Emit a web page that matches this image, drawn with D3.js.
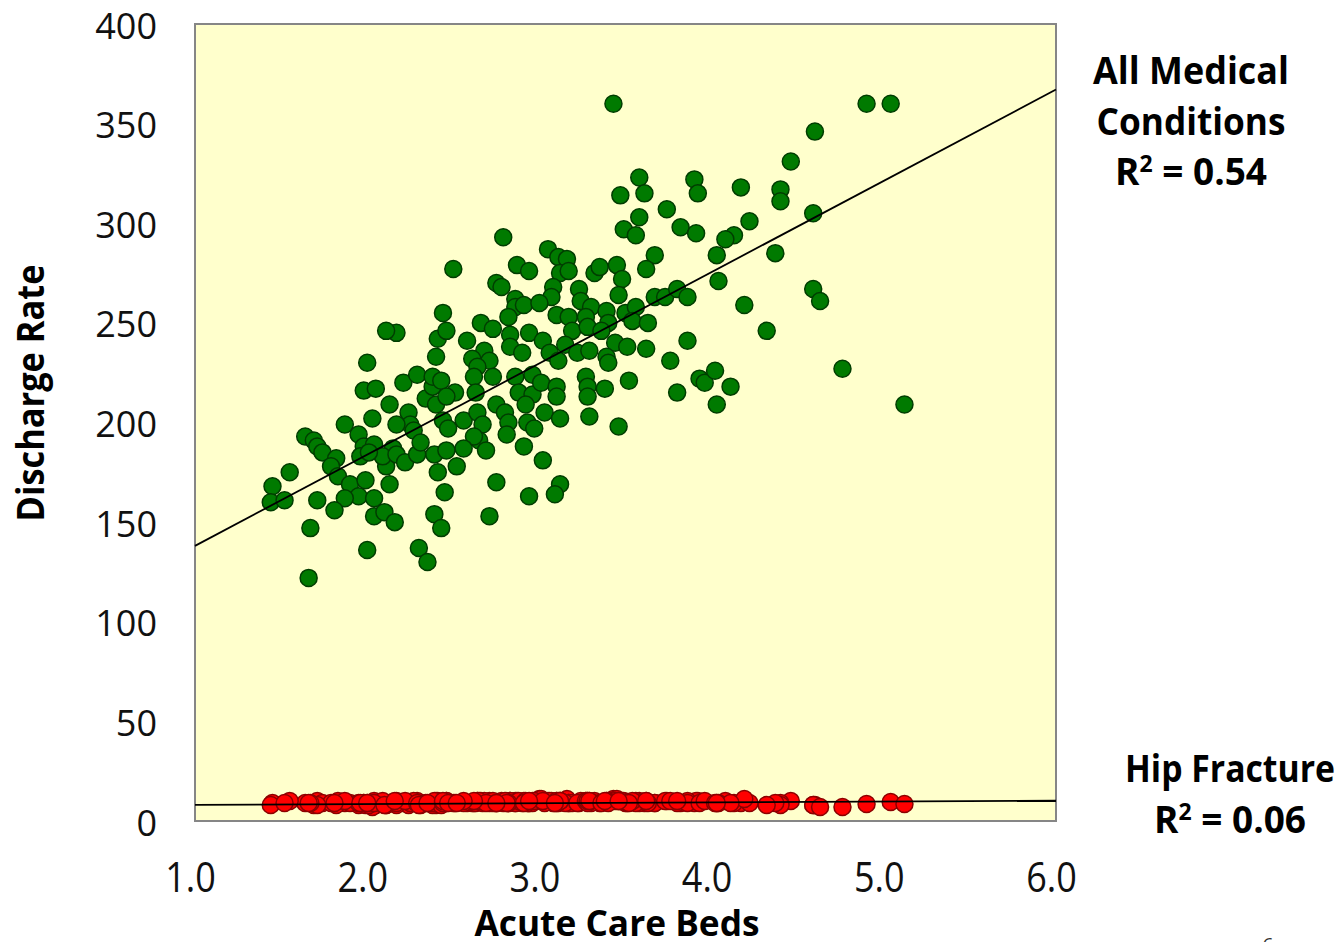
<!DOCTYPE html>
<html>
<head>
<meta charset="utf-8">
<script src="https://cdn.jsdelivr.net/npm/d3@7"></script>
<style>
  body { margin: 0; background: #ffffff; }
  svg { display: block; }
</style>
</head>
<body>
<div id="graph1"></div>
<script>
// Acute care beds per region (shared by both series)
const beds = [
    2.00, 2.40, 2.41, 2.17, 2.11, 2.21, 2.29, 1.98, 2.05, 2.13, 2.03, 1.87, 1.64, 1.69, 1.71, 1.74, 1.95, 1.98, 2.04, 2.15,
    2.24, 2.25, 2.17, 2.27, 2.34, 2.38, 2.38, 2.40, 2.43, 1.55, 1.45, 1.44, 1.52, 1.82, 1.79, 1.83, 1.90, 1.99, 1.95, 1.87,
    2.04, 2.11, 2.13, 2.09, 1.96, 2.01, 2.17, 2.22, 2.29, 2.31, 2.39, 2.41, 2.46, 1.71, 1.81, 2.04, 2.10, 2.16, 2.45, 2.39,
    2.43, 1.67, 2.00, 2.30, 2.35, 1.66, 2.71,
    2.79, 3.49, 2.50, 3.05, 3.11, 3.16, 2.87, 2.94, 3.12, 3.17, 3.32, 3.35, 2.75, 2.78, 3.08, 3.07, 3.23, 3.24, 3.30, 2.86,
    2.86, 2.91, 3.00, 2.44, 2.46, 2.82, 3.10, 3.17, 3.27, 3.50, 2.66, 2.73, 2.83, 2.94, 3.02, 3.19, 3.28, 2.58, 2.83, 2.90,
    2.68, 2.71, 3.06, 3.15, 3.11, 3.22, 3.29, 2.61, 2.64, 2.62, 2.73, 2.86, 2.96, 2.51, 2.46, 2.63, 2.88, 2.96, 3.01, 3.10,
    3.10, 3.27, 3.28, 3.28, 2.75, 2.80, 2.82, 2.92, 2.93, 2.97, 3.03, 3.12, 2.56, 2.64, 2.67, 2.44, 2.47, 3.29, 2.81, 2.65,
    2.69, 2.62, 2.91, 2.56, 2.52, 3.02, 2.75, 3.12, 3.09, 2.94,
    3.43, 4.60, 4.90, 5.04, 4.46, 3.58, 3.61, 3.47, 3.90, 3.92, 4.17, 4.40, 4.40, 3.74, 3.58, 3.56, 3.82, 3.91, 4.22, 4.13,
    4.08, 4.59, 3.67, 3.62, 3.45, 3.48, 4.03, 4.37, 3.46, 3.67, 3.73, 3.80, 3.86, 4.04, 4.59, 4.63, 4.19, 3.39, 3.56, 3.54,
    3.63, 3.40, 3.36, 4.32, 3.44, 3.51, 3.62, 3.86, 3.39, 3.40, 3.76, 4.76, 3.52, 3.38, 3.93, 3.96, 4.02, 4.11, 3.80, 4.03,
    3.46, 5.12
];

// Discharge rate, all medical conditions
const allMedical = [
    230, 233, 242, 245, 246, 220, 224, 216, 217, 209, 202, 199, 193, 191, 188, 185, 194, 188, 189, 187,
    205, 199, 199, 196, 212, 218, 223, 209, 221, 175, 168, 160, 161, 182, 178, 173, 169, 171, 163, 162,
    162, 178, 169, 183, 183, 185, 184, 180, 184, 190, 184, 175, 186, 161, 156, 153, 155, 150, 165, 154,
    147, 147, 136, 137, 130, 122, 153,
    293, 297, 277, 287, 283, 282, 279, 276, 275, 276, 275, 278, 270, 268, 268, 263, 267, 261, 258, 262,
    258, 259, 260, 255, 246, 253, 254, 253, 253, 255, 250, 247, 244, 245, 241, 246, 248, 241, 238, 235,
    236, 231, 235, 239, 231, 235, 236, 232, 228, 223, 223, 223, 224, 215, 213, 215, 215, 214, 220, 218,
    213, 223, 218, 213, 209, 205, 200, 209, 200, 197, 205, 202, 201, 205, 199, 201, 197, 203, 194, 191,
    186, 193, 188, 187, 178, 181, 170, 169, 164, 163,
    360, 346, 360, 360, 331, 323, 315, 314, 322, 315, 318, 317, 311, 307, 303, 294, 298, 295, 301, 294,
    292, 305, 284, 277, 279, 272, 284, 285, 264, 263, 263, 267, 263, 271, 267, 261, 259, 256, 258, 251,
    250, 250, 246, 246, 240, 238, 237, 241, 233, 230, 231, 227, 221, 217, 222, 220, 226, 218, 215, 209,
    198, 209
];

// Discharge rate, hip fracture
const hipFracture = [
    9, 8, 9, 10, 8, 9, 10, 9, 8, 9, 7, 9, 9, 8, 10, 9, 8, 9, 10, 9,
    8, 9, 8, 10, 9, 8, 9, 10, 9, 10, 9, 8, 9, 8, 9, 10, 9, 8, 9, 10,
    9, 8, 9, 10, 9, 8, 9, 10, 9, 8, 9, 10, 9, 8, 9, 9, 8, 10, 9, 10,
    8, 9, 9, 8, 9, 9, 10,
    9, 10, 9, 10, 9, 11, 10, 9, 10, 9, 10, 9, 9, 10, 9, 10, 9, 10, 9, 10,
    9, 10, 11, 9, 10, 9, 10, 9, 10, 9, 10, 9, 10, 9, 10, 9, 10, 9, 10, 9,
    10, 9, 10, 9, 10, 9, 10, 9, 10, 9, 10, 9, 10, 9, 10, 9, 10, 9, 11, 10,
    9, 10, 9, 10, 9, 10, 9, 10, 9, 10, 9, 10, 9, 10, 9, 10, 9, 10, 9, 10,
    9, 10, 9, 10, 9, 10, 9, 10, 9, 10,
    11, 8, 8.5, 9.5, 10, 10, 9, 10, 9, 10, 9, 9, 8, 10, 9, 10, 9, 10, 9, 9,
    10, 8, 9, 10, 11, 10, 9, 9, 10, 9, 10, 9, 10, 9, 8, 7, 11, 10, 9, 10,
    9, 10, 9, 8, 10, 9, 10, 9, 10, 9, 10, 7, 9, 10, 9, 10, 9, 9, 10, 9,
    10, 8.5
];

// Trend lines [intercept, slope]
const allMedicalFit = [92.3, 45.8];
const hipFractureFit = [7.7, 0.41];

// Axis ticks
const xTicks = [1, 2, 3, 4, 5, 6];
const yTicks = [0, 50, 100, 150, 200, 250, 300, 350, 400];

const graph_width = 1344, graph_height = 942;
const margin = {top: 24, right: 288, bottom: 121, left: 195};
const plot_w = graph_width - margin.left - margin.right;
const plot_h = graph_height - margin.top - margin.bottom;

let svg = d3.select("#graph1")
    .append("svg")
    .attr("width", graph_width)
    .attr("height", graph_height)
    .style("font-family", "'Open Sans', sans-serif");

let g = svg.append("g")
    .attr("transform", `translate(${margin.left}, ${margin.top})`);

let x = d3.scaleLinear().domain([1, 6]).range([0, plot_w]);
let y = d3.scaleLinear().domain([0, 400]).range([plot_h, 0]);

// Plot background
g.append("rect")
    .attr("width", plot_w)
    .attr("height", plot_h)
    .attr("fill", "#ffffcc")
    .attr("stroke", "#868686")
    .attr("stroke-width", 2);

// Y axis labels
let yAxis = g.append("g")
    .call(d3.axisLeft(y).tickValues(yTicks).tickSize(0).tickPadding(38));
yAxis.select(".domain").remove();
yAxis.selectAll("text")
    .attr("dy", "0.39em")
    .style("font-size", "36px")
    .style("font-family", "'Open Sans', sans-serif")
    .attr("fill", "#111");

// X axis labels (a bit narrow and tall like the original)
let xAxis = g.append("g")
    .attr("transform", `translate(0, ${plot_h})`)
    .call(d3.axisBottom(x).tickValues(xTicks).tickFormat(d3.format(".1f")).tickSize(0));
xAxis.select(".domain").remove();
xAxis.selectAll("text")
    .attr("y", 0)
    .attr("dy", 0)
    .attr("transform", "translate(-5, 71) scale(1, 1.15)")
    .style("font-size", "36px")
    .style("font-family", "'Open Sans', sans-serif")
    .attr("fill", "#111");

// Points
let idx = d3.range(beds.length);

g.append("g").selectAll("circle")
    .data(idx)
    .enter()
    .append("circle")
    .attr("cx", function(i) { return x(beds[i]); })
    .attr("cy", function(i) { return y(hipFracture[i]); })
    .attr("r", 8.5)
    .attr("fill", "#ff0000")
    .attr("stroke", "#8b0000")
    .attr("stroke-width", 1.5);

g.append("g").selectAll("circle")
    .data(idx)
    .enter()
    .append("circle")
    .attr("cx", function(i) { return x(beds[i]); })
    .attr("cy", function(i) { return y(allMedical[i]); })
    .attr("r", 8.5)
    .attr("fill", "#007a00")
    .attr("stroke", "#003d00")
    .attr("stroke-width", 1.5);

// Trend lines
let line = d3.line()
    .x(function(d) { return x(d[0]); })
    .y(function(d) { return y(d[1]); });

[allMedicalFit, hipFractureFit].forEach(function(fit) {
    let pts = x.domain().map(function(b) { return [b, fit[0] + fit[1] * b]; });
    g.append("path")
        .datum(pts)
        .attr("d", line)
        .attr("fill", "none")
        .attr("stroke", "#000")
        .attr("stroke-width", 1.8);
});

// Axis titles
svg.append("text")
    .attr("transform", "translate(44, 393) rotate(-90)")
    .attr("text-anchor", "middle")
    .attr("textLength", 257)
    .attr("lengthAdjust", "spacingAndGlyphs")
    .style("font-size", "37px")
    .style("font-weight", "bold")
    .text("Discharge Rate");

svg.append("text")
    .attr("x", 617)
    .attr("y", 936)
    .attr("text-anchor", "middle")
    .attr("textLength", 285)
    .attr("lengthAdjust", "spacingAndGlyphs")
    .style("font-size", "36px")
    .style("font-weight", "bold")
    .text("Acute Care Beds");

// Series annotations
function label(cx, cy, lines) {
    lines.forEach(function(l, k) {
        let t = svg.append("text")
            .attr("x", cx)
            .attr("y", cy + k * 50.5)
            .attr("text-anchor", "middle")
            .style("font-size", "37px")
            .style("font-weight", "bold");
        if (l.r2) {
            t.append("tspan").text("R");
            t.append("tspan").attr("dy", -13).style("font-size", "23px").text("2");
            t.append("tspan").attr("dy", 13).text(" = " + l.r2);
        } else {
            t.attr("textLength", l.w).attr("lengthAdjust", "spacingAndGlyphs").text(l.text);
        }
    });
}

label(1191, 84, [{text: "All Medical", w: 196}, {text: "Conditions", w: 189}, {r2: "0.54"}]);
label(1230, 782, [{text: "Hip Fracture", w: 210}, {r2: "0.06"}]);

// Slide number, mostly cut off at the bottom edge
svg.append("text")
    .attr("x", 1268)
    .attr("y", 952)
    .attr("text-anchor", "middle")
    .style("font-size", "20px")
    .attr("fill", "#333")
    .text("6");
</script>
</body>
</html>
